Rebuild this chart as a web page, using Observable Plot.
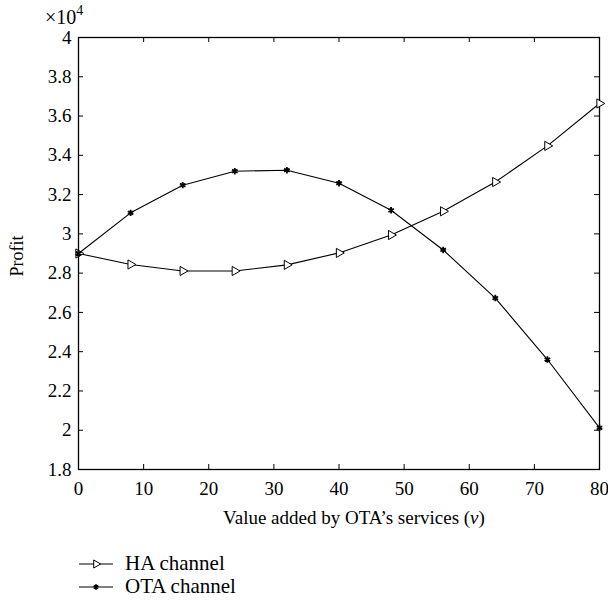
<!DOCTYPE html>
<html><head><meta charset="utf-8">
<script src="https://cdn.jsdelivr.net/npm/d3@7"></script>
<script src="https://cdn.jsdelivr.net/npm/@observablehq/plot@0.6"></script>
<style>
body{margin:0;background:#fff;font-family:"Liberation Serif","Times New Roman","DejaVu Serif",serif;position:relative;width:608px;height:608px;overflow:hidden;}
#legend{position:absolute;left:78px;top:552px;font-size:21px;color:#000;}
.row{display:flex;align-items:center;height:23px;}
.row span{margin-left:11px;}
svg text{font-family:"Liberation Serif","Times New Roman","DejaVu Serif",serif;}
</style></head><body><div id="chart"></div><div id="legend"></div>
<script>
const v = [0, 8, 16, 24, 32, 40, 48, 56, 64, 72, 80];
const haProfit = [29000, 28440, 28110, 28110, 28420, 29030, 29940, 31150, 32640, 34480, 36640];
const otaProfit = [29000, 31070, 32480, 33190, 33240, 32580, 31200, 29180, 26730, 23600, 20120];
const seriesNames = ["HA channel", "OTA channel"];
const xTicks = [0, 10, 20, 30, 40, 50, 60, 70, 80];
const yTicks = [18000, 20000, 22000, 24000, 26000, 28000, 30000, 32000, 34000, 36000, 38000, 40000];
const xLabel = "Value added by OTA\u2019s services (";
const yLabel = "Profit";

const ha = v.map((x, i) => ({v: x, profit: haProfit[i], series: seriesNames[0]}));
const ota = v.map((x, i) => ({v: x, profit: otaProfit[i], series: seriesNames[1]}));
const data = ha.concat(ota);

const W = 608, H = 530, mL = 78, mR = 9, mT = 37, mB = 61;
const iw = W - mL - mR, ih = H - mT - mB, tk = 5;
const FS = 19;

const chart = Plot.plot({
  width: W, height: H,
  marginLeft: mL, marginRight: mR, marginTop: mT, marginBottom: mB,
  style: {fontFamily: "'Liberation Serif', 'Times New Roman', serif", fontSize: FS + "px", color: "black", background: "white"},
  x: {domain: [0, 80]},
  y: {domain: [18000, 40000]},
  marks: [
    Plot.axisX(xTicks, {tickSize: 0, tickPadding: 12, label: null, fontSize: FS}),
    Plot.axisY(yTicks, {tickSize: 0, tickPadding: 7, tickFormat: d => String(d / 1e4), label: null, fontSize: FS}),
    Plot.tickX(xTicks, {x: d => d, insetTop: ih - tk, stroke: "black"}),
    Plot.tickX(xTicks, {x: d => d, insetBottom: ih - tk, stroke: "black"}),
    Plot.tickY(yTicks, {y: d => d, insetRight: iw - tk, stroke: "black"}),
    Plot.tickY(yTicks, {y: d => d, insetLeft: iw - tk, stroke: "black"}),
    Plot.frame({stroke: "black", strokeWidth: 1.3}),
    Plot.line(data, {x: "v", y: "profit", z: "series", stroke: "black", strokeWidth: 1.1}),
    Plot.dot(ha, {x: "v", y: "profit", symbol: "triangle", rotate: 90, r: 3.4, stroke: "black", fill: "white", strokeWidth: 1}),
    Plot.dot(ota, {x: "v", y: "profit", symbol: "asterisk", r: 3, stroke: "black", strokeWidth: 1.8})
  ]
});
document.getElementById("chart").appendChild(chart);

const svg = d3.select(chart);
// x label with italic v
const xl = svg.append("text").attr("x", 354).attr("y", 524)
  .attr("text-anchor", "middle").attr("font-size", 19).attr("fill", "black");
xl.append("tspan").text(xLabel);
xl.append("tspan").attr("font-style", "italic").text("v");
xl.append("tspan").text(")");
// y label
svg.append("text").attr("transform", `translate(23,${mT + ih / 2 + 3}) rotate(-90)`)
  .attr("text-anchor", "middle").attr("font-size", 18).attr("fill", "black").text(yLabel);
// exponent
const ex = svg.append("text").attr("x", 45).attr("y", 24).attr("text-anchor", "start").attr("font-size", 20).attr("fill", "black");
ex.append("tspan").text("\u00d710");
ex.append("tspan").attr("dy", -9).attr("font-size", 14).text("4");

// legend
const legend = d3.select("#legend");
seriesNames.forEach((name, i) => {
  const row = legend.append("div").attr("class", "row");
  const s = row.append("svg").attr("width", 36).attr("height", 20);
  s.append("line").attr("x1", 1).attr("x2", 35).attr("y1", 10).attr("y2", 10).attr("stroke", "black").attr("stroke-width", 1.1);
  if (i === 0) {
    s.append("path").attr("d", d3.symbol(d3.symbolTriangle).size(28)())
      .attr("transform", "translate(18,10) rotate(90)").attr("fill", "white").attr("stroke", "black");
  } else {
    s.append("path").attr("d", d3.symbol(d3.symbolAsterisk).size(20)())
      .attr("transform", "translate(18,10)").attr("fill", "none").attr("stroke", "black").attr("stroke-width", 1.8);
  }
  row.append("span").text(name);
});
</script></body></html>
